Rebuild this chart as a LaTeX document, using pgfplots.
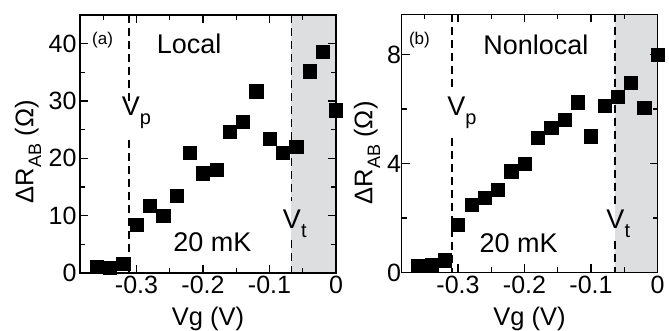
\documentclass[border=0pt]{standalone}
\usepackage{pgfplots}
\pgfplotsset{compat=1.18}
\usepackage{fontspec}
\setmainfont{Liberation Sans}
\definecolor{grayband}{RGB}{221,222,224}
\newcommand{\fsT}{\fontsize{25}{28}\selectfont}
\newcommand{\fsL}{\fontsize{25.5}{29}\selectfont}
\newcommand{\fsA}{\fontsize{27}{30}\selectfont}
\newcommand{\fsS}{\fontsize{17}{19}\selectfont}
\newcommand{\sub}[1]{\raisebox{-0.34em}{\fontsize{20}{22}\selectfont #1}}
\newcommand{\subs}[1]{\raisebox{-0.3em}{\fontsize{18}{20}\selectfont #1}}

\pgfplotstableread{
x y
-0.36 1.16
-0.34 0.87
-0.32 1.57
-0.30 8.4
-0.28 11.8
-0.26 10.0
-0.24 13.5
-0.22 21.0
-0.20 17.4
-0.18 18.0
-0.16 24.6
-0.14 26.4
-0.12 31.7
-0.10 23.4
-0.08 21.0
-0.06 22.0
-0.04 35.2
-0.02 38.6
0.00 28.4
}\localdata

\pgfplotstableread{
x y
-0.36 0.24
-0.34 0.27
-0.32 0.45
-0.30 1.75
-0.28 2.48
-0.26 2.75
-0.24 3.05
-0.22 3.72
-0.20 4.0
-0.18 4.95
-0.16 5.31
-0.14 5.62
-0.12 6.25
-0.10 5.0
-0.08 6.13
-0.06 6.45
-0.04 6.96
-0.02 6.04
0.00 8.0
}\nonlocaldata

\pgfplotsset{panel/.style={
  scale only axis, width=256pt, height=258pt,
  xmin=-0.385, xmax=0.0,
  xtick={-0.3,-0.2,-0.1,0}, xticklabels={-0.3,-0.2,-0.1,0},
  minor xtick={-0.35,-0.25,-0.15,-0.05},
  tick align=inside, major tick length=8pt, minor tick length=5pt,
  axis line style={line width=1.5pt},
  every tick/.style={line width=1.3pt, black},
  tick label style={font=\fsT},
  label style={font=\fsL},
  xlabel={Vg (V)},
  xlabel style={at={(axis description cs:0.5,-0.178)}, anchor=center},
  ylabel={ΔR\subs{AB} (Ω)},
  axis on top,
  clip=true,
}}
\tikzset{vdash/.style={line width=1.7pt, dash pattern=on 8pt off 5pt}}

\begin{document}
\begin{tikzpicture}
\useasboundingbox (0,0) rectangle (669pt,331pt);
% Left panel
\begin{axis}[panel, at={(80pt,58pt)}, anchor=south west,
  ymin=0, ymax=45,
  ytick={0,10,20,30,40}, yticklabels={0,10,20,30,40},
  minor ytick={5,15,25,35},
  ylabel style={at={(axis description cs:-0.203,0.47)}, anchor=center},
]
\fill[grayband] (axis cs:-0.067,0) rectangle (axis cs:0,45);
\draw[vdash] (axis cs:-0.311,45) -- (axis cs:-0.311,29.6);
\draw[vdash] (axis cs:-0.311,23.2) -- (axis cs:-0.311,0);
\draw[vdash] (axis cs:-0.067,45) -- (axis cs:-0.067,12.5);
\draw[vdash] (axis cs:-0.067,5.8) -- (axis cs:-0.067,0);
\addplot[only marks, mark=square*, mark size=6.6pt, black] table[x=x,y=y] {\localdata};
\node[font=\fsS] at (axis cs:-0.351,40.7) {(a)};
\node[font=\fsA] at (axis cs:-0.221,40) {Local};
\node[font=\fsA] at (axis cs:-0.300,28.0) {V\sub{p}};
\node[font=\fsA] at (axis cs:-0.186,5.4) {20 mK};
\node[font=\fsA] at (axis cs:-0.062,8.6) {V\sub{t}};
\end{axis}
% Right panel
\begin{axis}[panel, at={(401.5pt,58.5pt)}, anchor=south west,
  ymin=0, ymax=9.47,
  ytick={0,4,8}, yticklabels={0,4,8},
  minor ytick={2,6},
  yticklabel style={xshift=3pt},
  ylabel style={at={(axis description cs:-0.135,0.464)}, anchor=center},
]
\fill[grayband] (axis cs:-0.064,0) rectangle (axis cs:0,9.5);
\draw[vdash] (axis cs:-0.309,9.5) -- (axis cs:-0.309,6.8);
\draw[vdash] (axis cs:-0.309,4.95) -- (axis cs:-0.309,0);
\draw[vdash] (axis cs:-0.064,9.5) -- (axis cs:-0.064,2.4);
\draw[vdash] (axis cs:-0.064,1.16) -- (axis cs:-0.064,0);
\addplot[only marks, mark=square*, mark size=6.6pt, black] table[x=x,y=y] {\nonlocaldata};
\node[font=\fsS] at (axis cs:-0.358,8.52) {(b)};
\node[font=\fsA] at (axis cs:-0.183,8.36) {Nonlocal};
\node[font=\fsA] at (axis cs:-0.294,5.85) {V\sub{p}};
\node[font=\fsA] at (axis cs:-0.209,1.08) {20 mK};
\node[font=\fsA] at (axis cs:-0.059,1.8) {V\sub{t}};
\end{axis}
\end{tikzpicture}
\end{document}
